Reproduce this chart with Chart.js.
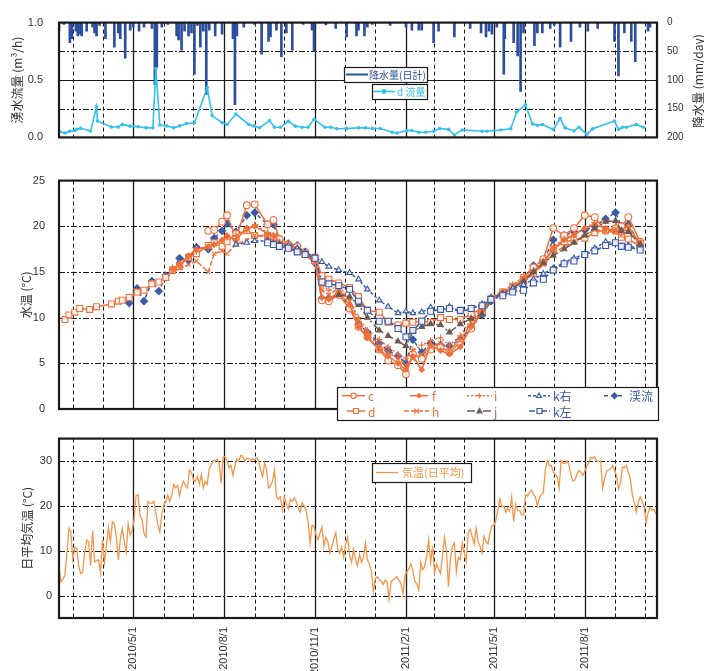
<!DOCTYPE html>
<html>
<head>
<meta charset="utf-8">
<script src="https://cdn.jsdelivr.net/npm/chart.js@4.4.0/dist/chart.umd.min.js"></script>
<style>
body { margin: 0; background: #fff; }
#wrap { position: relative; width: 704px; height: 671px; overflow: hidden; }
canvas { position: absolute; left: 0; }
</style>
</head>
<body>
<div id="wrap">
  <canvas id="flowCanvas" width="704" height="160" style="top:0"></canvas>
  <canvas id="waterCanvas" width="704" height="270" style="top:160px"></canvas>
  <canvas id="airCanvas" width="704" height="246" style="top:425px"></canvas>
</div>
<script>
// ---- data ----
const gridMonths = ['2010/3/1', '2010/4/1', '2010/5/1', '2010/6/1', '2010/7/1', '2010/8/1', '2010/9/1', '2010/10/1',
    '2010/11/1', '2010/12/1', '2011/1/1', '2011/2/1', '2011/3/1', '2011/4/1', '2011/5/1', '2011/6/1', '2011/7/1',
    '2011/8/1', '2011/9/1', '2011/10/1'];
const labelMonths = ['2010/5/1', '2010/8/1', '2010/11/1', '2011/2/1', '2011/5/1', '2011/8/1'];

// top panel: daily rain (mm/day) and d spring flow (m3/h)
const rainDates = ['2010/2/15', '2010/2/20', '2010/2/26', '2010/2/28', '2010/3/4', '2010/3/6', '2010/3/8', '2010/3/10',
    '2010/3/15', '2010/3/21', '2010/3/23', '2010/3/25', '2010/3/28', '2010/4/3', '2010/4/12', '2010/4/16', '2010/4/18',
    '2010/4/23', '2010/4/28', '2010/5/1', '2010/5/7', '2010/5/12', '2010/5/20', '2010/5/23', '2010/5/25', '2010/5/30',
    '2010/6/5', '2010/6/14', '2010/6/16', '2010/6/19', '2010/6/22', '2010/6/26', '2010/6/29', '2010/7/2', '2010/7/5',
    '2010/7/8', '2010/7/11', '2010/7/14', '2010/7/17', '2010/7/23', '2010/7/30', '2010/8/10', '2010/8/12', '2010/8/14',
    '2010/8/21', '2010/9/1', '2010/9/8', '2010/9/15', '2010/9/17', '2010/9/23', '2010/9/28', '2010/10/3', '2010/10/9',
    '2010/10/20', '2010/10/29', '2010/10/31', '2010/11/12', '2010/11/22', '2010/12/3', '2010/12/13', '2010/12/15',
    '2010/12/21', '2010/12/24', '2010/12/29', '2011/1/16', '2011/2/1', '2011/2/7', '2011/2/14', '2011/2/17', '2011/3/1',
    '2011/3/6', '2011/3/22', '2011/4/7', '2011/4/18', '2011/4/23', '2011/4/26', '2011/4/29', '2011/5/4', '2011/5/11',
    '2011/5/12', '2011/5/21', '2011/5/25', '2011/5/28', '2011/5/31', '2011/6/11', '2011/6/14', '2011/6/19', '2011/6/27',
    '2011/7/1', '2011/7/7', '2011/7/18', '2011/7/27', '2011/8/4', '2011/8/14', '2011/8/31', '2011/9/4', '2011/9/10',
    '2011/9/17', '2011/9/21', '2011/10/4', '2011/10/6'];
const rainValues = [13, 3, 35, 28, 15, 23, 20, 23, 15, 8, 18, 23, 5, 28, 43, 18, 28, 62, 13, 8, 15, 8, 10, 108, 78, 8,
    3, 23, 30, 48, 15, 23, 18, 90, 5, 43, 15, 125, 13, 23, 20, 28, 143, 23, 8, 3, 55, 33, 25, 13, 60, 18, 48, 3, 13,
    50, 4, 10, 25, 23, 13, 23, 8, 3, 5, 8, 13, 13, 13, 35, 15, 25, 10, 18, 25, 15, 20, 8, 90, 28, 35, 58, 120, 18, 40,
    18, 18, 10, 5, 43, 33, 8, 15, 10, 33, 93, 18, 33, 68, 15, 8];

const flowDates = ['2010/2/15', '2010/2/21', '2010/2/26', '2010/3/3', '2010/3/5', '2010/3/9', '2010/3/19', '2010/3/25',
    '2010/3/26', '2010/4/9', '2010/4/16', '2010/4/20', '2010/4/28', '2010/5/6', '2010/5/14', '2010/5/21', '2010/5/24',
    '2010/5/28', '2010/6/4', '2010/6/11', '2010/6/17', '2010/6/24', '2010/7/2', '2010/7/15', '2010/7/20', '2010/7/30',
    '2010/8/4', '2010/8/13', '2010/8/26', '2010/8/31', '2010/9/6', '2010/9/16', '2010/9/21', '2010/9/27', '2010/10/5',
    '2010/10/12', '2010/10/19', '2010/10/25', '2010/10/31', '2010/11/11', '2010/11/17', '2010/11/23', '2010/12/3',
    '2010/12/15', '2010/12/22', '2010/12/29', '2011/1/6', '2011/1/18', '2011/1/23', '2011/2/2', '2011/2/7', '2011/2/14',
    '2011/2/21', '2011/3/1', '2011/3/7', '2011/3/16', '2011/3/22', '2011/3/30', '2011/4/19', '2011/4/24', '2011/5/8',
    '2011/5/18', '2011/5/24', '2011/6/2', '2011/6/9', '2011/6/14', '2011/6/19', '2011/6/30', '2011/7/7', '2011/7/12',
    '2011/7/21', '2011/7/26', '2011/8/3', '2011/8/9', '2011/8/31', '2011/9/4', '2011/9/8', '2011/9/12', '2011/9/22',
    '2011/9/29'];
const flowValues = [0.053, 0.038, 0.053, 0.06, 0.07, 0.08, 0.056, 0.266, 0.143, 0.09, 0.09, 0.113, 0.098, 0.093, 0.083,
    0.083, 0.597, 0.108, 0.1, 0.083, 0.1, 0.12, 0.128, 0.434, 0.188, 0.128, 0.113, 0.203, 0.113, 0.1, 0.083, 0.146,
    0.088, 0.088, 0.14, 0.098, 0.088, 0.088, 0.158, 0.088, 0.088, 0.075, 0.078, 0.083, 0.083, 0.078, 0.078, 0.045,
    0.038, 0.06, 0.06, 0.045, 0.045, 0.053, 0.078, 0.07, 0.02, 0.065, 0.053, 0.053, 0.065, 0.075, 0.221, 0.283, 0.118,
    0.105, 0.113, 0.07, 0.165, 0.083, 0.056, 0.088, 0.028, 0.075, 0.143, 0.07, 0.088, 0.088, 0.113, 0.088];

// middle panel: water temperature (°C) at survey dates
const waterDates = ['2010/2/21', '2010/2/25', '2010/3/3', '2010/3/8', '2010/3/18', '2010/3/25', '2010/4/9', '2010/4/16',
    '2010/4/20', '2010/4/27', '2010/5/5', '2010/5/12', '2010/5/20', '2010/5/27', '2010/6/3', '2010/6/10', '2010/6/17',
    '2010/6/26', '2010/7/4', '2010/7/16', '2010/7/22', '2010/7/30', '2010/8/4', '2010/8/13', '2010/8/24', '2010/9/1',
    '2010/9/14', '2010/9/20', '2010/9/26', '2010/10/5', '2010/10/14', '2010/10/22', '2010/11/1', '2010/11/8',
    '2010/11/15', '2010/11/25', '2010/12/6', '2010/12/15', '2010/12/24', '2011/1/5', '2011/1/14', '2011/1/24', '2011/2/1',
    '2011/2/8', '2011/2/17', '2011/2/26', '2011/3/8', '2011/3/17', '2011/3/28', '2011/4/8', '2011/4/19', '2011/4/28',
    '2011/5/10', '2011/5/20', '2011/5/31', '2011/6/10', '2011/6/20', '2011/6/30', '2011/7/11', '2011/7/21', '2011/8/1',
    '2011/8/11', '2011/8/22', '2011/9/1', '2011/9/7', '2011/9/14', '2011/9/26'];
const N = null;
const tempC = [N, N, N, N, N, N, N, N, N, N, N, N, N, N, N, N, N, N, N,
    19.5, 19.6, 20.5, 21.2, 18.7, 22.3, 22.4, 20.2, 20.7, 18.6, 18.0, 17.8, 17.2, 16.2, 11.9, 11.8, 12.5, 11.0, 9.0,
    7.9, 6.5, 5.3, 4.8, 3.8, 6.0, 5.5, 6.5, 6.8, 6.2, 7.3, 8.8, 10.6, 12.0, 12.6, 13.2, 14.4, 15.5, 16.4, 19.8, 19.0,
    19.8, 21.2, 21.0, 19.5, 19.8, 20.0, 21.0, 18.3];
const tempD = [9.8, 10.3, 10.6, 11.0, 10.9, 11.2, 11.5, 11.8, 11.9, 12.2, 12.8, 13.0, 13.7, 13.9, 14.4, 15.2, 15.6,
    16.6, 17.0, 17.9, 18.2, 17.8, 18.3, 19.2, 19.5, 19.0, 19.0, 18.8, 18.0, 17.8, 17.4, 17.0, 16.6, 14.6, 14.2, 13.8,
    13.3, 12.3, 10.8, 10.6, 9.5, 9.2, 9.4, 9.5, 9.6, 9.5, 10.0, 9.8, 9.8, 10.4, 11.0, 12.0, 12.8, 13.4, 14.0, 14.8,
    16.0, 17.5, 18.3, 18.5, 18.7, 19.3, 19.6, 19.5, 18.8, 18.6, 17.8];
const tempF = [N, N, N, N, N, N, N, N, N, N, N, N, N, N, N,
    15.3, 15.8, 16.8, 17.5, 17.8, 18.0, 18.5, 19.0, 18.5, 19.8, 20.0, 19.2, 19.0, 18.2, 17.9, 17.6, 17.0, 16.2, 12.2,
    12.0, 12.8, 11.4, 9.0, 7.8, 6.5, 5.8, 5.0, 4.3, 5.8, 4.3, 7.0, 6.4, 6.0, 6.8, 9.0, 10.8, 12.0, 12.6, 13.2, 14.2,
    15.0, 16.0, 17.5, 18.5, 19.0, 19.8, 20.2, 19.8, 19.5, 19.6, 20.0, 18.0];
const tempH = [N, N, N, N, N, N, N, N, N, N, N, N, N, N, N,
    15.0, 15.4, 15.8, 16.2, 15.0, 17.0, 17.3, 17.0, 18.0, 18.5, 19.0, 18.8, 18.5, 18.0, 17.6, 17.3, 16.8, 16.0, 13.0,
    12.5, 13.2, 11.8, 9.6, 8.2, 7.0, 6.2, 5.5, 4.8, 5.5, 6.0, 6.8, 7.2, 6.5, 7.5, 9.5, 11.0, 12.2, 12.8, 13.4, 14.2,
    14.8, 15.8, 17.0, 17.8, 18.3, 19.0, 19.6, 19.5, 19.3, 19.0, 19.4, 18.2];
const tempI = [N, N, N, N, N, N, N, N, N, N, N, N, N, N, N,
    15.5, 16.0, 16.5, 17.2, 17.6, 18.0, 18.4, 18.8, 19.0, 19.5, 20.2, 19.3, 19.0, 18.3, 17.8, 17.5, 17.0, 16.4, 13.5,
    13.0, 13.5, 12.0, 10.0, 8.6, 7.6, 6.8, 6.0, 5.5, 6.5, 7.0, 7.5, 7.8, 7.0, 8.0, 9.8, 11.2, 12.2, 12.9, 13.6, 14.5,
    15.2, 16.2, 17.8, 18.6, 19.2, 19.8, 20.4, 20.6, 20.4, 19.5, 19.6, 18.4];
const tempJ = [N, N, N, N, N, N, N, N, N, N, N, N, N, N, N, N, N, N, N, N, N, N, N, N, N, N, N, N, N, N, N, N, N, N, N,
    12.5, 12.3, 11.4, 10.0, 8.6, 8.0, 7.4, 6.9, 8.5, 9.0, 9.3, 9.2, 8.4, 9.3, 9.9, 10.4, 11.8, 12.6, 13.2, 14.0, 15.0,
    16.0, 16.8, 17.5, 18.2, 19.0, 19.8, 20.5, 20.6, 19.5, 19.4, 18.0];
const tempKR = [N, N, N, N, N, N, N, N, N, N, N, N, N, N, N, N, N, N, N, N, N, N, N,
    18.0, 18.2, 18.4, 18.4, 18.1, 18.0, 17.9, 17.6, 17.2, 16.6, 16.1, 15.6, 15.2, 14.9, 14.2, 13.1, 11.9, 11.2, 10.5,
    10.7, 10.5, 10.6, 11.1, 10.8, 11.2, 10.6, 11.0, 11.5, 12.2, 12.6, 13.2, 13.6, 14.2, 14.8, 15.4, 16.0, 16.5, 17.0,
    17.6, 18.3, 18.2, 17.8, 17.9, 17.5];
const tempKL = [N, N, N, N, N, N, N, N, N, N, N, N, N, N, N, N, N, N, N, N, N, N, N, N, N, N,
    18.2, 18.0, 17.8, 17.6, 17.2, 16.9, 16.5, 13.9, 13.7, 13.5, 13.1, 11.8, 10.8, 9.6, 9.6, 8.8, 7.9, 8.6, 9.6, 10.7,
    10.9, 11.0, 10.8, 11.0, 11.3, 12.0, 12.4, 12.8, 13.0, 13.8, 14.2, 15.2, 15.9, 16.2, 16.9, 17.3, 17.9, 18.2, 17.8,
    17.7, 17.4];
const tempStream = [N, N, N, N, N, N, N, N, N,
    11.6, 13.2, 11.8, 14.0, 12.9, 14.6, 15.2, 16.5, 16.3, 17.7, 17.5, 18.7, 19.5, 20.3, 19.4, 21.2, 21.5, 20.2, 20.2,
    18.5, 18.1, 17.9, 17.2, 16.0, 12.1, 12.1, 12.5, 11.2, 9.3, 8.4, 7.2, 6.4, 5.8, 5.0, 7.6, 6.2, 7.2, 7.0, 6.9, 7.6,
    9.0, 10.3, 11.8, 12.6, 13.3, 14.2, 15.7, 16.2, 18.5, 19.0, 19.4, 19.6, 20.0, 20.8, 21.5, 20.0, 20.2, 17.9];

// bottom panel: daily mean air temperature, read every 2 days from 2010/2/15
const airStart = '2010/2/15';
const airStep = 2;
const airValues = [
    6.0, 3.1, 3.6, 4.5, 9.5, 15.0, 14.2, 8.1, 10.8, 10.5,
    6.5, 4.9, 5.2, 9.6, 12.4, 12.0, 6.7, 14.5, 7.5, 7.8,
    8.0, 5.0, 12.5, 7.4, 11.0, 15.2, 12.0, 16.5, 16.0, 13.2,
    8.0, 12.5, 15.0, 12.0, 9.6, 16.0, 13.5, 14.5, 17.0, 22.3,
    22.5, 17.8, 17.0, 13.8, 13.0, 21.0, 20.6, 20.5, 21.0, 18.5,
    15.8, 14.2, 18.0, 20.2, 21.0, 22.4, 21.0, 22.2, 24.8, 24.0,
    24.5, 22.2, 24.3, 25.5, 24.5, 24.0, 28.0, 27.5, 25.8, 25.5,
    26.5, 24.8, 27.0, 24.0, 25.5, 24.8, 28.3, 29.0, 30.1, 30.0,
    30.4, 29.5, 25.0, 30.8, 31.0, 30.0, 28.5, 29.0, 26.8, 29.0,
    30.5, 30.0, 31.3, 31.0, 30.0, 30.6, 30.6, 30.0, 30.5, 30.3,
    30.7, 30.0, 28.0, 26.5, 29.5, 28.0, 24.0, 24.5, 25.5, 28.0,
    22.0, 21.5, 22.0, 19.0, 22.0, 20.5, 19.3, 21.4, 21.0, 21.8,
    21.0, 19.6, 18.6, 20.7, 20.0, 18.9, 16.5, 11.7, 15.7, 15.5,
    13.5, 12.5, 13.9, 15.3, 11.0, 13.0, 12.0, 9.5, 11.0, 12.6,
    14.0, 10.3, 9.4, 10.8, 8.5, 11.5, 13.0, 9.0, 7.4, 10.3,
    8.0, 6.7, 9.2, 7.5, 8.5, 11.7, 8.0, 7.0, 5.5, 1.0,
    3.8, 4.2, 3.5, 3.2, 2.5, 3.5, 3.0, -0.8, 3.1, 3.5,
    3.8, 4.2, 3.4, 2.7, 0.3, 4.5, 5.3, 6.0, 7.0, 5.5,
    3.2, 2.6, 1.3, 7.4, 5.8, 6.5, 8.8, 12.4, 7.4, 11.0,
    5.0, 7.0, 6.0, 4.9, 9.0, 13.0, 10.0, 2.0, 8.0, 11.0,
    11.7, 5.3, 8.5, 8.0, 11.7, 9.5, 7.5, 14.0, 14.8, 13.2,
    11.5, 15.0, 12.0, 11.0, 9.5, 13.2, 12.0, 11.5, 14.0, 15.5,
    15.7, 16.8, 19.0, 21.5, 19.8, 20.0, 18.6, 19.5, 18.8, 22.0,
    16.5, 20.4, 19.0, 19.0, 18.0, 18.0, 22.5, 22.2, 23.0, 23.5,
    22.5, 22.0, 20.0, 21.8, 22.5, 23.0, 28.0, 30.1, 29.0, 29.0,
    27.6, 27.0, 26.5, 24.0, 30.1, 29.5, 29.5, 30.0, 29.0, 26.8,
    25.5, 25.8, 27.0, 27.9, 27.5, 26.8, 27.8, 28.8, 29.7, 30.8,
    30.6, 31.0, 30.0, 30.0, 30.0, 24.0, 26.1, 27.8, 28.0, 28.2,
    29.0, 28.0, 26.8, 23.8, 25.0, 28.6, 28.5, 29.0, 27.5, 26.0,
    22.5, 20.8, 18.6, 20.8, 22.0, 21.0, 19.6, 16.4, 18.5, 19.6,
    19.0, 19.3, 18.2];

// ---- helpers ----
const FONT = "'Liberation Sans', 'Noto Sans CJK JP', sans-serif";
const JP = "'Noto Sans CJK JP', 'Liberation Sans', sans-serif";
Chart.defaults.font.family = FONT;
Chart.defaults.color = '#333';

const day0 = Date.UTC(2010, 0, 1);
function toDay(s) {
    const p = s.split('/').map(Number);
    return (Date.UTC(p[0], p[1] - 1, p[2]) - day0) / 86400000;
}
const xMin = toDay('2010/2/15');
const xMax = toDay('2011/10/13');

const ORANGE = '#F0703A';
const BLUE = '#3A5AA8';
const BROWN = '#6E5A52';
const RAIN = '#2C4E9E';
const FLOW = '#33C1EE';
const AIR = '#F4964A';

const NO_GRID = {display: false, drawTicks: false};

function fixWidth(w) { return scale => { scale.width = w; }; }
function fixTicks(values) { return scale => { scale.ticks = values.map(v => ({value: v})); }; }

function xScale(showLabels) {
    return {
        type: 'linear', min: xMin, max: xMax, offset: false,
        grid: NO_GRID, border: {display: false},
        afterBuildTicks: fixTicks(labelMonths.map(toDay)),
        afterFit: scale => { scale.height = showLabels ? 53 : 0; },
        ticks: {
            display: showLabels, autoSkip: false, minRotation: 90, maxRotation: 90, padding: 9,
            font: {size: 11}, color: '#333',
            callback: v => labelMonths.find(s => toDay(s) === v) || ''
        }
    };
}

// grid lines (solid on quarter months, dashed elsewhere) and the heavy frame
const panelGrid = {
    id: 'panelGrid',
    beforeDatasetsDraw(chart, args, opts) {
        const {ctx, chartArea: a} = chart;
        const xs = chart.scales.x, ys = chart.scales.y;
        ctx.save();
        ctx.strokeStyle = '#1a1a1a';
        gridMonths.forEach(s => {
            const px = Math.round(xs.getPixelForValue(toDay(s))) + 0.5;
            const solid = labelMonths.includes(s);
            ctx.setLineDash(solid ? [] : [4, 3]);
            ctx.lineWidth = solid ? 1.3 : 1;
            ctx.beginPath();
            ctx.moveTo(px, a.top);
            ctx.lineTo(px, a.bottom);
            ctx.stroke();
        });
        opts.yLines.forEach(v => {
            const py = Math.round(ys.getPixelForValue(v)) + 0.5;
            const solid = (opts.ySolid || []).includes(v);
            ctx.setLineDash(solid ? [] : [6, 2, 2, 2]);
            ctx.lineWidth = 1;
            ctx.beginPath();
            ctx.moveTo(a.left, py);
            ctx.lineTo(a.right, py);
            ctx.stroke();
        });
        ctx.restore();
    },
    afterDatasetsDraw(chart) {
        const {ctx, chartArea: a} = chart;
        ctx.save();
        ctx.strokeStyle = '#1a1a1a';
        ctx.lineWidth = 2.2;
        ctx.strokeRect(a.left, a.top, a.right - a.left, a.bottom - a.top);
        ctx.restore();
    }
};

function drawMarker(ctx, style, x, y, r, stroke, fill) {
    ctx.save();
    ctx.setLineDash([]);
    ctx.strokeStyle = stroke;
    ctx.fillStyle = fill;
    ctx.lineWidth = 1.2;
    ctx.beginPath();
    if (style === 'circle') {
        ctx.arc(x, y, r, 0, Math.PI * 2);
    } else if (style === 'rect') {
        ctx.rect(x - r * 0.75, y - r * 0.75, r * 1.5, r * 1.5);
    } else if (style === 'rectRot') {
        ctx.moveTo(x, y - r); ctx.lineTo(x + r, y); ctx.lineTo(x, y + r); ctx.lineTo(x - r, y); ctx.closePath();
    } else if (style === 'triangle') {
        ctx.moveTo(x, y - r); ctx.lineTo(x + r, y + r * 0.7); ctx.lineTo(x - r, y + r * 0.7); ctx.closePath();
    } else if (style === 'cross') {
        ctx.moveTo(x - r, y); ctx.lineTo(x + r, y); ctx.moveTo(x, y - r); ctx.lineTo(x, y + r);
    } else if (style === 'crossRot') {
        ctx.moveTo(x - r, y - r); ctx.lineTo(x + r, y + r); ctx.moveTo(x + r, y - r); ctx.lineTo(x - r, y + r);
    }
    if (style !== 'cross' && style !== 'crossRot') ctx.fill();
    ctx.stroke();
    ctx.restore();
}

function legendBox(ctx, x0, y0, x1, y1) {
    ctx.save();
    ctx.fillStyle = '#fff';
    ctx.fillRect(x0, y0, x1 - x0, y1 - y0);
    ctx.strokeStyle = '#1a1a1a';
    ctx.lineWidth = 1.2;
    ctx.strokeRect(x0 + 0.5, y0 + 0.5, x1 - x0, y1 - y0);
    ctx.restore();
}

function legendText(ctx, text, x, y, color, size) {
    ctx.save();
    ctx.font = size + 'px ' + JP;
    ctx.fillStyle = color;
    ctx.textBaseline = 'middle';
    ctx.textAlign = 'left';
    ctx.fillText(text, x, y);
    ctx.restore();
}

function legendLine(ctx, x0, x1, y, color, dash, width) {
    ctx.save();
    ctx.strokeStyle = color;
    ctx.lineWidth = width;
    ctx.setLineDash(dash);
    ctx.beginPath();
    ctx.moveTo(x0, y);
    ctx.lineTo(x1, y);
    ctx.stroke();
    ctx.restore();
}

// ---- top chart: rain + spring flow ----
new Chart(document.getElementById('flowCanvas'), {
    type: 'line',
    data: {
        datasets: [{
            type: 'bar',
            label: '降水量(日計)',
            data: rainDates.map((d, i) => ({x: toDay(d), y: rainValues[i]})),
            yAxisID: 'y2',
            backgroundColor: RAIN,
            borderWidth: 0,
            barThickness: 2,
            order: 2
        }, {
            label: 'd 流量',
            data: flowDates.map((d, i) => ({x: toDay(d), y: flowValues[i]})),
            yAxisID: 'y',
            borderColor: FLOW,
            backgroundColor: FLOW,
            borderWidth: 1.6,
            pointRadius: 1.8,
            pointBorderWidth: 0,
            tension: 0,
            order: 1
        }]
    },
    options: {
        responsive: false,
        animation: false,
        layout: {padding: {left: 0, right: 0, top: 15, bottom: 12}},
        plugins: {
            legend: {display: false},
            tooltip: {enabled: false},
            panelGrid: {yLines: [0.25, 0.5, 0.75], ySolid: [0.5]}
        },
        scales: {
            x: xScale(false),
            y: {
                min: 0, max: 1,
                afterBuildTicks: fixTicks([0, 0.5, 1]),
                afterFit: fixWidth(59),
                grid: NO_GRID, border: {display: false},
                ticks: {padding: 16, font: {size: 11}, callback: v => v.toFixed(1)},
                title: {display: true, text: '湧水流量 (m³/h)', font: {size: 12, family: JP}, padding: {top: 10}}
            },
            y2: {
                position: 'right', reverse: true, min: 0, max: 200,
                afterBuildTicks: fixTicks([0, 50, 100, 150, 200]),
                afterFit: fixWidth(47),
                grid: NO_GRID, border: {display: false},
                ticks: {padding: 10, font: {size: 10}}
            }
        }
    },
    plugins: [panelGrid, {
        id: 'flowExtras',
        afterDraw(chart) {
            const ctx = chart.ctx;
            ctx.save();
            ctx.translate(698, 81);
            ctx.rotate(-Math.PI / 2);
            ctx.font = '12px ' + JP;
            ctx.fillStyle = '#333';
            ctx.textAlign = 'center';
            ctx.textBaseline = 'middle';
            ctx.fillText('降水量 (mm/day)', 0, 0);
            ctx.restore();

            legendBox(ctx, 344, 67, 427, 82);
            legendLine(ctx, 346, 368, 74.5, RAIN, [], 2);
            legendText(ctx, '降水量(日計)', 369, 75, RAIN, 10);
            legendBox(ctx, 372, 84, 427, 99);
            legendLine(ctx, 373, 395, 91.5, FLOW, [], 1.6);
            drawMarker(ctx, 'circle', 384, 91.5, 1.8, FLOW, FLOW);
            legendText(ctx, 'd 流量', 397, 92, FLOW, 10);
        }
    }]
});

// ---- middle chart: water temperature ----
const OPEN = 'rgba(255,255,255,0.85)';
function waterSeries(label, values, color, dash, style, radius, fill) {
    return {
        label: label,
        data: waterDates.map((d, i) => ({x: toDay(d), y: values[i]})).filter(p => p.y !== null),
        borderColor: color,
        backgroundColor: color,
        borderWidth: 1.5,
        borderDash: dash,
        pointStyle: style,
        pointRadius: radius,
        pointBorderColor: color,
        pointBackgroundColor: fill,
        pointBorderWidth: 1.1,
        tension: 0
    };
}
const waterSets = [
    waterSeries('k左', tempKL, BLUE, [6, 2, 2, 2], 'rect', 4.2, OPEN),
    waterSeries('k右', tempKR, BLUE, [3, 2], 'triangle', 3.2, OPEN),
    waterSeries('j', tempJ, BROWN, [8, 3, 2, 3], 'triangle', 3.2, BROWN),
    waterSeries('i', tempI, ORANGE, [2, 2], 'cross', 3.2, ORANGE),
    waterSeries('h', tempH, ORANGE, [5, 2], 'crossRot', 3, ORANGE),
    waterSeries('f', tempF, ORANGE, [], 'rectRot', 2.6, ORANGE),
    waterSeries('d', tempD, ORANGE, [], 'rect', 4.2, OPEN),
    waterSeries('c', tempC, ORANGE, [], 'circle', 3.4, OPEN),
    waterSeries('渓流', tempStream, BLUE, [4, 3], 'rectRot', 3.6, BLUE)
];
const waterLegend = [
    {label: 'c', row: 0, x0: 342, x1: 365, tx: 368},
    {label: 'd', row: 1, x0: 347, x1: 365, tx: 368},
    {label: 'f', row: 0, x0: 410, x1: 428, tx: 432},
    {label: 'h', row: 1, x0: 404, x1: 429, tx: 432},
    {label: 'i', row: 0, x0: 467, x1: 492, tx: 494},
    {label: 'j', row: 1, x0: 467, x1: 492, tx: 494},
    {label: 'k右', row: 0, x0: 528, x1: 550, tx: 553},
    {label: 'k左', row: 1, x0: 529, x1: 550, tx: 553},
    {label: '渓流', row: 0, x0: 604, x1: 625, tx: 629}
];

new Chart(document.getElementById('waterCanvas'), {
    type: 'line',
    data: {datasets: waterSets},
    options: {
        responsive: false,
        animation: false,
        layout: {padding: {left: 0, right: 47, top: 10, bottom: 21}},
        plugins: {
            legend: {display: false},
            tooltip: {enabled: false},
            panelGrid: {yLines: [5, 10, 15, 20]}
        },
        scales: {
            x: xScale(false),
            y: {
                min: 0, max: 25,
                afterBuildTicks: fixTicks([0, 5, 10, 15, 20, 25]),
                afterFit: fixWidth(59),
                grid: NO_GRID, border: {display: false},
                ticks: {padding: 14, font: {size: 11}},
                title: {display: true, text: '水温 (°C)', font: {size: 12, family: JP}, padding: {top: 19}}
            }
        }
    },
    plugins: [panelGrid, {
        id: 'waterLegend',
        afterDraw(chart) {
            const ctx = chart.ctx;
            legendBox(ctx, 337, 227, 658, 260);
            waterLegend.forEach(item => {
                const ds = waterSets.find(s => s.label === item.label);
                const y = item.row === 0 ? 235.7 : 251;
                legendLine(ctx, item.x0, item.x1, y, ds.borderColor, ds.borderDash, 1.5);
                drawMarker(ctx, ds.pointStyle, (item.x0 + item.x1) / 2, y, ds.pointRadius * 0.8,
                    ds.pointBorderColor, ds.pointBackgroundColor);
                legendText(ctx, item.label, item.tx, y + 1, item.label === 'j' ? '#777' : ds.borderColor, 12);
            });
        }
    }]
});

// ---- bottom chart: daily mean air temperature ----
const airX0 = toDay(airStart);
new Chart(document.getElementById('airCanvas'), {
    type: 'line',
    data: {
        datasets: [{
            label: '気温(日平均)',
            data: airValues.map((v, i) => ({x: airX0 + i * airStep, y: v})),
            borderColor: AIR,
            borderWidth: 1.3,
            pointRadius: 0,
            tension: 0
        }]
    },
    options: {
        responsive: false,
        animation: false,
        layout: {padding: {left: 0, right: 47, top: 9, bottom: 0}},
        plugins: {
            legend: {display: false},
            tooltip: {enabled: false},
            panelGrid: {yLines: [0, 10, 20, 30]}
        },
        scales: {
            x: xScale(true),
            y: {
                min: -5, max: 35,
                afterBuildTicks: fixTicks([0, 10, 20, 30]),
                afterFit: fixWidth(59),
                grid: NO_GRID, border: {display: false},
                ticks: {padding: 7, font: {size: 11}},
                title: {display: true, text: '日平均気温 (°C)', font: {size: 12, family: JP}, padding: {top: 20}}
            }
        }
    },
    plugins: [panelGrid, {
        id: 'airLegend',
        afterDraw(chart) {
            const ctx = chart.ctx;
            legendBox(ctx, 372, 38, 471, 57);
            legendLine(ctx, 376, 398, 47.5, AIR, [], 1.3);
            legendText(ctx, '気温(日平均)', 402, 48, AIR, 11);
        }
    }]
});
</script>
</body>
</html>
